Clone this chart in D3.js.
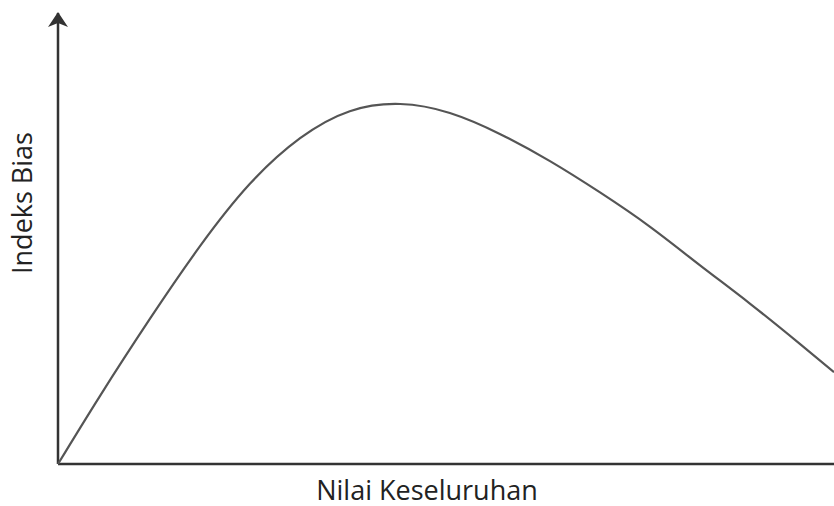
<!DOCTYPE html>
<html>
<head>
<meta charset="utf-8">
<script src="https://cdn.jsdelivr.net/npm/d3@7"></script>
<style>
  html, body { margin: 0; padding: 0; background: #fff; }
  svg { display: block; }
</style>
</head>
<body>
<script>
// Overall value (x) against bias index (y), in arbitrary units 0–100
const overallValue = [0, 5.4, 11.9, 18.3, 24.7, 31.2, 37.6, 44.1, 50.5, 57.0, 63.4, 69.8, 76.3, 82.7, 89.2, 95.6, 100];
const biasIndex    = [0, 15.1, 32.4, 48.4, 62.2, 72.4, 78.4, 80.0, 78.0, 73.3, 67.3, 60.4, 52.7, 44.2, 35.6, 26.7, 20.4];
const xTitle = "Nilai Keseluruhan";
const yTitle = "Indeks Bias";

const width = 834, height = 506;
const margin = { left: 58, right: 0, top: 14, bottom: 42 };

const svg = d3.select("body").append("svg")
  .attr("width", width).attr("height", height);

const x = d3.scaleLinear().domain([0, 100]).range([margin.left, width - margin.right]);
const y = d3.scaleLinear().domain([0, 100]).range([height - margin.bottom, margin.top]);

const axisColor = "#333";

// Arrowhead marker for the axes
svg.append("defs").append("marker")
  .attr("id", "arrow")
  .attr("viewBox", "-2 -10 18 20")
  .attr("refX", 14).attr("refY", 0)
  .attr("markerUnits", "userSpaceOnUse")
  .attr("markerWidth", 18).attr("markerHeight", 20)
  .attr("orient", "auto")
  .append("path")
  .attr("d", "M0,-10 L15,0 L0,10 L4,0 Z")
  .attr("fill", axisColor);

const x0 = x(0), y0 = y(0);

// Y axis (up arrow)
svg.append("line")
  .attr("x1", x0).attr("y1", y0)
  .attr("x2", x0).attr("y2", y(100) - 1)
  .attr("stroke", axisColor).attr("stroke-width", 2.5)
  .attr("marker-end", "url(#arrow)");

// X axis (right arrow, running past the edge)
svg.append("line")
  .attr("x1", x0).attr("y1", y0)
  .attr("x2", x(100) + 14).attr("y2", y0)
  .attr("stroke", axisColor).attr("stroke-width", 2.5)
  .attr("marker-end", "url(#arrow)");

// Curve
const line = d3.line()
  .x((d, i) => x(overallValue[i]))
  .y(d => y(d))
  .curve(d3.curveNatural);

svg.append("path")
  .datum(biasIndex)
  .attr("d", line)
  .attr("fill", "none")
  .attr("stroke", "#555")
  .attr("stroke-width", 2.2);

// Axis titles
svg.append("text")
  .attr("x", 427).attr("y", 500)
  .attr("text-anchor", "middle")
  .attr("font-family", "'Open Sans', sans-serif")
  .attr("font-size", 27)
  .attr("fill", "#222")
  .text(xTitle);

svg.append("text")
  .attr("transform", "translate(32,203) rotate(-90)")
  .attr("text-anchor", "middle")
  .attr("font-family", "'Open Sans', sans-serif")
  .attr("font-size", 27)
  .attr("fill", "#222")
  .text(yTitle);
</script>
</body>
</html>
